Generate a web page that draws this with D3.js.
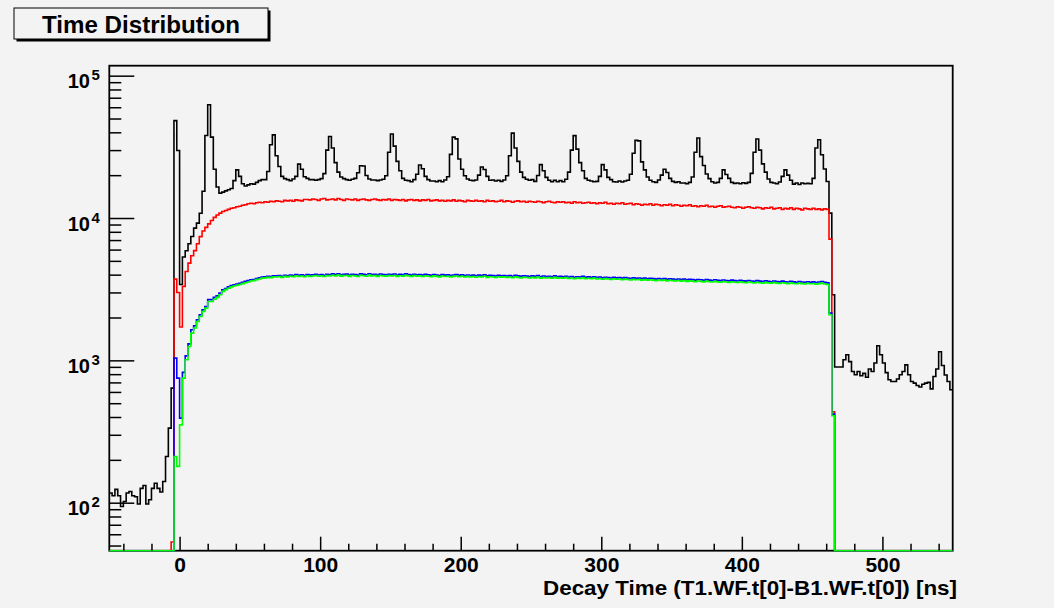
<!DOCTYPE html>
<html>
<head>
<meta charset="utf-8">
<script src="https://cdn.jsdelivr.net/npm/d3@7"></script>
<style>
body { margin:0; background:#f3f3f3; }
svg { display:block; font-family:"Liberation Sans", Arial, Helvetica, sans-serif; font-weight:bold; }
</style>
</head>
<body>
<script>
// histogram binning: 300 bins of 2 ns starting at -50 ns
var binStart = -50, binWidth = 2;

var blackCounts = [
117,112,124,112,94,102,117,120,112,110,
98,126,132,98,105,126,137,126,119,141,
211,334,638,48300,29800,3410,5320,5890,6590,7420,
8490,9210,10800,15400,38000,62500,37000,22000,16500,14950,
15200,15500,15800,16100,18300,21800,19600,17400,16800,17100,
17400,17300,17800,18300,18600,18600,21200,32700,38400,27400,
23000,19600,18900,18600,18300,18800,19600,23900,22000,19500,
19000,18600,18600,18400,18600,18900,20500,30000,37400,31000,
24500,21000,19400,18900,18600,18400,18700,19000,20800,23300,
23200,19900,18800,18500,18500,18300,18500,18700,19800,29000,
38900,32000,25000,21500,19000,18400,18300,18000,18600,20300,
23600,22200,19600,18600,18200,18200,18000,18300,18000,18500,
19500,28000,37000,36000,26000,22000,19800,18800,18400,18300,
18500,20000,22800,21900,19600,18400,18500,18200,18400,18100,
18500,19800,27400,39500,31000,25000,21000,19300,18700,18400,
18600,18100,19900,23700,21500,19300,18400,18000,18400,18000,
18300,18000,18700,21000,30000,37900,30500,24500,21500,19000,
18400,18200,18000,18100,19600,23700,21800,19300,18600,18000,
17900,18200,17900,18200,18400,20300,28500,35100,34800,24800,
21800,19400,18400,18000,17800,18500,20000,22000,20900,19000,
18100,17800,18000,17600,17600,17400,17800,19400,29000,36500,
27000,23400,20400,18900,18000,17600,17800,19000,21800,20200,
19000,17800,17500,17600,17400,17700,17500,17800,20600,29000,
35900,30000,24000,21000,18800,17800,17600,17400,17900,19600,
21800,20000,18400,17300,17600,17200,17600,17400,17500,17400,
19000,31000,35500,27850,22100,18070,10830,2890,897,897,
897,1009,1094,980,836,792,836,780,810,760,
870,836,957,1265,1094,957,820,730,711,711,
740,792,836,930,792,711,692,665,650,680,
692,700,630,770,870,1150,920,790,711,621
];

var redCounts = [
0,0,0,0,0,0,0,0,0,0,
0,0,0,0,0,0,0,0,0,0,
0,0,53,3720,3000,1716,3310,4210,4820,5430,
5900,6600,7400,8100,8600,9100,9600,10100,10500,10830,
11100,11300,11500,11700,11800,12000,12100,12300,12400,12600,
12700,12600,12800,12900,12800,13000,12900,13100,13000,13200,
13100,13000,13300,13200,13300,13100,13400,13300,13200,13500,
13500,13400,13600,13500,13300,13600,13700,13400,13500,13600,
13400,13700,13500,13300,13600,13500,13400,13600,13300,13500,
13600,13400,13300,13500,13600,13400,13300,13500,13400,13600,
13300,13500,13400,13300,13500,13200,13400,13500,13300,13400,
13200,13400,13300,13500,13200,13300,13400,13200,13300,13100,
13300,13200,13400,13100,13300,13200,13000,13300,13200,13100,
13300,13100,13200,13000,13300,13100,13200,13000,13100,13300,
13000,13200,13100,12900,13100,13200,13000,13100,12900,13100,
13000,12900,13100,13000,12800,13000,13100,12900,12800,13000,
12900,13000,12800,12900,12700,13000,12800,12900,12700,12800,
12900,12700,12800,12600,12800,12700,12900,12600,12700,12500,
12700,12600,12800,12500,12600,12700,12400,12600,12500,12300,
12500,12400,12600,12300,12500,12400,12200,12400,12300,12500,
12200,12400,12300,12100,12300,12200,12400,12100,12200,12000,
12200,12100,12300,12000,12100,11900,12100,12200,11900,12000,
12100,11900,11800,12000,11900,11700,11900,12000,11800,11700,
11900,11800,11600,11800,11700,11900,11600,11700,11800,11500,
11700,11600,11800,11500,11700,11600,11400,11700,11600,11500,
11700,11500,11600,11400,11600,11500,7110,435,0,0,
0,0,0,0,0,0,0,0,0,0,
0,0,0,0,0,0,0,0,0,0,
0,0,0,0,0,0,0,0,0,0,
0,0,0,0,0,0,0,0,0,0
];

var blueCounts = [
0,0,0,0,0,0,0,0,0,0,
0,0,0,0,0,0,0,0,0,0,
0,0,0,1037,750,393,823,1076,1306,1640,
1750,1928,2090,2265,2390,2670,2670,2770,2840,2970,
3130,3200,3280,3350,3400,3440,3480,3540,3590,3630,
3680,3690,3760,3800,3850,3870,3900,3880,3930,3920,
3950,3900,3960,3930,3980,3940,4000,3960,3990,3950,
4010,3970,3990,4030,3980,4010,3960,4020,3990,4050,
4000,4060,3990,4020,4040,3980,4030,4010,3970,4050,
4020,3990,4060,4000,4030,3970,4040,4010,3990,4030,
4000,4040,3980,4020,3990,4050,4010,3970,4030,3990,
4010,3970,4020,3990,3960,4010,3980,3950,4000,3970,
3990,3950,3980,4000,3960,3990,3940,3980,3950,3970,
3930,3970,3950,3990,3920,3960,3940,3910,3960,3930,
3950,3910,3940,3900,3960,3920,3890,3930,3910,3880,
3920,3890,3940,3870,3910,3880,3900,3860,3920,3870,
3890,3860,3900,3850,3880,3840,3870,3850,3890,3830,
3860,3840,3870,3820,3850,3800,3840,3820,3790,3830,
3800,3820,3780,3810,3790,3760,3800,3770,3790,3750,
3780,3740,3770,3750,3720,3760,3730,3750,3710,3740,
3720,3700,3730,3690,3720,3680,3710,3690,3660,3700,
3680,3650,3690,3660,3640,3680,3650,3630,3670,3640,
3620,3660,3630,3610,3650,3620,3600,3640,3610,3590,
3630,3600,3580,3620,3590,3570,3610,3580,3560,3600,
3570,3550,3590,3560,3540,3580,3550,3530,3570,3540,
3560,3520,3550,3580,3530,3500,2150,419,0,0,
0,0,0,0,0,0,0,0,0,0,
0,0,0,0,0,0,0,0,0,0,
0,0,0,0,0,0,0,0,0,0,
0,0,0,0,0,0,0,0,0,0
];

var greenCounts = [
0,0,0,0,0,0,0,0,0,0,
0,0,0,0,0,0,0,0,0,0,
0,0,0,211,180,352,750,1010,1250,1553,
1686,1877,2033,2203,2327,2594,2594,2690,2770,2890,
3050,3140,3210,3280,3330,3370,3410,3460,3510,3550,
3610,3630,3690,3730,3780,3800,3830,3810,3860,3850,
3880,3830,3890,3860,3900,3870,3920,3880,3910,3870,
3930,3890,3910,3950,3900,3930,3880,3940,3910,3960,
3910,3970,3900,3940,3950,3890,3950,3920,3880,3960,
3930,3900,3970,3910,3940,3880,3950,3920,3900,3940,
3910,3950,3890,3930,3900,3960,3920,3880,3940,3900,
3920,3880,3930,3900,3870,3920,3890,3860,3910,3880,
3900,3860,3890,3910,3870,3900,3850,3890,3860,3880,
3840,3880,3860,3900,3830,3870,3850,3820,3870,3840,
3860,3820,3850,3810,3870,3830,3800,3840,3820,3790,
3830,3800,3850,3780,3820,3790,3810,3770,3830,3780,
3800,3770,3810,3760,3790,3750,3780,3760,3800,3740,
3770,3750,3780,3730,3760,3710,3750,3730,3700,3740,
3710,3730,3690,3720,3700,3670,3710,3680,3700,3660,
3690,3650,3680,3660,3630,3670,3640,3660,3620,3650,
3630,3610,3640,3600,3630,3590,3620,3600,3570,3610,
3590,3560,3600,3570,3550,3590,3560,3540,3580,3550,
3530,3570,3540,3520,3560,3530,3510,3550,3520,3500,
3540,3510,3490,3530,3500,3480,3520,3490,3470,3510,
3480,3460,3500,3470,3450,3490,3460,3440,3480,3450,
3470,3430,3460,3490,3440,3410,2090,408,0,0,
0,0,0,0,0,0,0,0,0,0,
0,0,0,0,0,0,0,0,0,0,
0,0,0,0,0,0,0,0,0,0,
0,0,0,0,0,0,0,0,0,0
];

var xMajorTicks = [0,100,200,300,400,500];
var yDecades = [100,1000,10000,100000];
var yExponents = ["2","3","4","5"];
var titleText = "Time Distribution";
var xTitle = "Decay Time (T1.WF.t[0]-B1.WF.t[0]) [ns]";

var width = 1054, height = 608;
var frame = {left:109.3, right:952.7, top:65.7, bottom:550.7};

var x = d3.scaleLinear().domain([-50, 550]).range([frame.left, frame.right]);
var y = d3.scaleLog().domain([46, 117500]).range([frame.bottom, frame.top]).clamp(true);

var svg = d3.select("body").append("svg").attr("width", width).attr("height", height);
svg.append("rect").attr("width", width).attr("height", height).attr("fill", "#f3f3f3");

// title box with shadow
svg.append("rect").attr("x", 16.5).attr("y", 10.5).attr("width", 254).attr("height", 31).attr("fill", "#000");
svg.append("rect").attr("x", 14).attr("y", 8).attr("width", 254).attr("height", 31)
    .attr("fill", "#f3f3f3").attr("stroke", "#000").attr("stroke-width", 1);
svg.append("text").attr("x", 141).attr("y", 33).attr("text-anchor", "middle")
    .attr("font-size", 23.5).attr("textLength", 198).attr("lengthAdjust", "spacingAndGlyphs")
    .text(titleText);

// frame first, so the empty bins can sit on its bottom edge
svg.append("rect").attr("x", frame.left).attr("y", frame.top)
    .attr("width", frame.right - frame.left).attr("height", frame.bottom - frame.top)
    .attr("fill", "none").attr("stroke", "#000").attr("stroke-width", 1.8);

svg.append("clipPath").attr("id", "clip").append("rect")
    .attr("x", frame.left).attr("y", frame.top)
    .attr("width", frame.right - frame.left).attr("height", frame.bottom - frame.top + 1.5);

function stepPath(counts) {
  var pts = [];
  counts.forEach(function(c, i) {
    var x0 = x(binStart + i * binWidth), x1 = x(binStart + (i + 1) * binWidth);
    var yy = c > 0 ? y(c) : frame.bottom;
    pts.push([x0, yy], [x1, yy]);
  });
  return d3.line()(pts);
}

var plot = svg.append("g").attr("clip-path", "url(#clip)");
[[blackCounts, "#000000"], [redCounts, "#ff0000"], [blueCounts, "#0000ff"], [greenCounts, "#00ff00"]]
  .forEach(function(s) {
    plot.append("path").attr("d", stepPath(s[0])).attr("fill", "none")
        .attr("stroke", s[1]).attr("stroke-width", 1.6).attr("stroke-linejoin", "miter");
  });

// x axis: minor and major ticks pointing inward
var xMinor = d3.range(-40, 550, 20).filter(function(v){ return xMajorTicks.indexOf(v) < 0; });
svg.append("g").attr("transform", "translate(0," + frame.bottom + ")")
   .call(d3.axisBottom(x).tickValues(xMinor).tickSizeInner(-7).tickSizeOuter(0).tickFormat(""))
   .call(function(g){ g.select(".domain").remove(); g.selectAll("line").attr("stroke-width", 1.5); });
svg.append("g").attr("transform", "translate(0," + frame.bottom + ")")
   .call(d3.axisBottom(x).tickValues(xMajorTicks).tickSizeInner(-14).tickSizeOuter(0).tickPadding(6))
   .call(function(g){
     g.select(".domain").remove();
     g.selectAll("line").attr("stroke-width", 1.5);
     g.selectAll("text").attr("font-size", 21).attr("font-weight", "bold")
      .attr("font-family", "Liberation Sans, Arial, sans-serif").attr("fill", "#000");
   });

svg.append("text").attr("x", 957).attr("y", 595).attr("text-anchor", "end")
   .attr("font-size", 20.5).attr("textLength", 414).attr("lengthAdjust", "spacingAndGlyphs")
   .text(xTitle);

// y axis: log ticks
var yMinor = [];
[10, 100, 1000, 10000, 100000].forEach(function(d) {
  [2,3,4,5,6,7,8,9].forEach(function(m) {
    var v = d * m;
    if (v >= 46 && v <= 117500) yMinor.push(v);
  });
});
svg.append("g").attr("transform", "translate(" + frame.left + ",0)")
   .call(d3.axisLeft(y).tickValues(yMinor).tickSizeInner(-12).tickSizeOuter(0).tickFormat(""))
   .call(function(g){ g.select(".domain").remove(); g.selectAll("line").attr("stroke-width", 1.5); });
svg.append("g").attr("transform", "translate(" + frame.left + ",0)")
   .call(d3.axisLeft(y).tickValues(yDecades).tickSizeInner(-25).tickSizeOuter(0).tickFormat(""))
   .call(function(g){ g.select(".domain").remove(); g.selectAll("line").attr("stroke-width", 1.5); });

var yLab = svg.append("g").selectAll("g").data(yDecades).enter().append("g")
   .attr("transform", function(d){ return "translate(0," + y(d) + ")"; });
yLab.append("text").attr("x", 90).attr("y", 12.5).attr("text-anchor", "end")
   .attr("font-size", 20).text("10");
yLab.append("text").attr("x", 91.5).attr("y", 4.5).attr("font-size", 15)
   .text(function(d, i){ return yExponents[i]; });
</script>
</body>
</html>
